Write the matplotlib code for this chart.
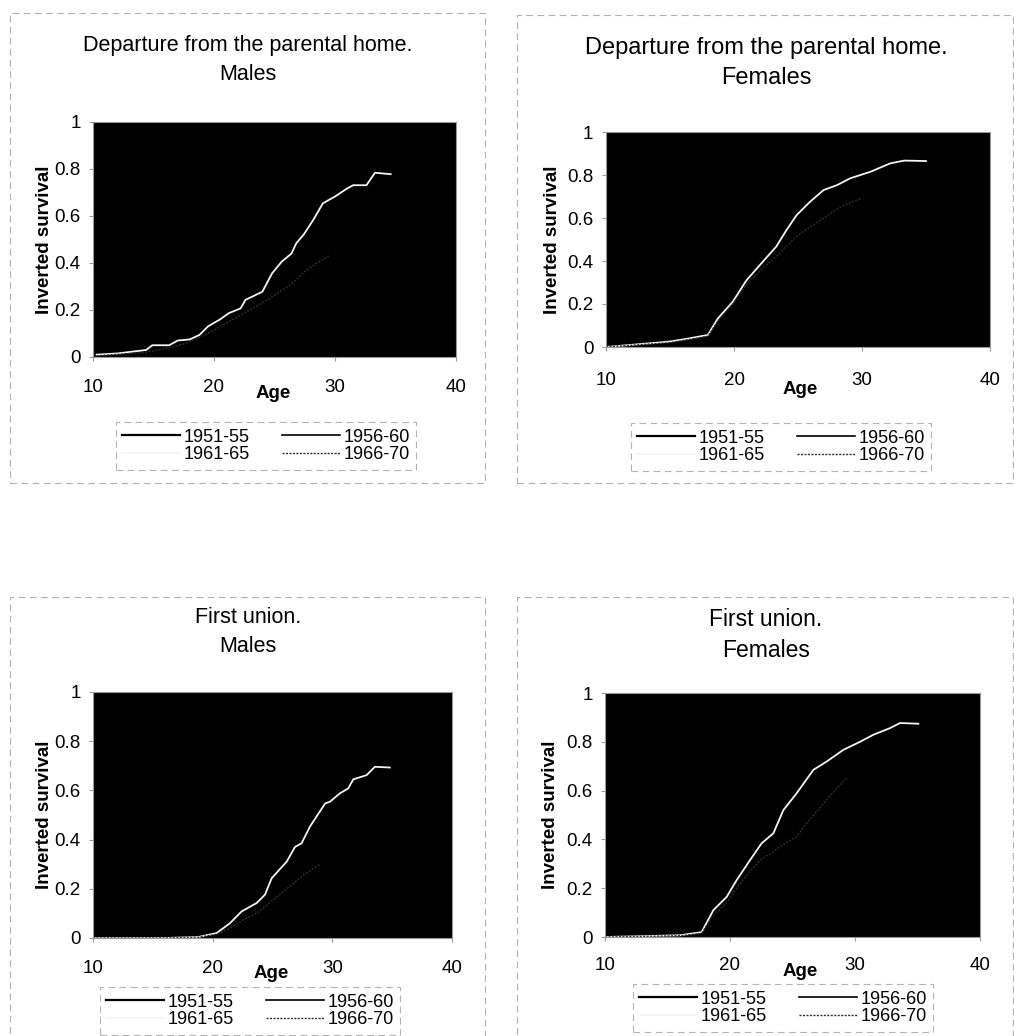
import matplotlib
matplotlib.use("Agg")
import matplotlib.pyplot as plt
from matplotlib.patches import Rectangle

plt.rcParams['font.family'] = ['Liberation Sans', 'DejaVu Sans']

W, H = 1014, 1036

# ---------------- data ----------------
cohorts = ["1951-55", "1956-60", "1961-65", "1966-70"]
x_ticks = [10, 20, 30, 40]
y_ticks = [0, 0.2, 0.4, 0.6, 0.8, 1]
y_tick_labels = ["0", "0.2", "0.4", "0.6", "0.8", "1"]

# Departure from the parental home, males
dm_age_51 = [10, 14, 16, 18, 20, 22, 24, 26, 28, 30, 32, 34, 36, 38, 40]
dm_val_51 = [0.01, 0.04, 0.07, 0.11, 0.18, 0.26, 0.36, 0.48, 0.60, 0.69, 0.75, 0.79, 0.82, 0.84, 0.85]
dm_age_56 = [10, 14, 16, 18, 20, 22, 24, 26, 28, 30, 32, 34, 36, 38, 40]
dm_val_56 = [0.01, 0.035, 0.06, 0.09, 0.16, 0.23, 0.32, 0.45, 0.58, 0.68, 0.74, 0.78, 0.81, 0.83, 0.84]
dm_age_61 = [10.3, 12, 14.4, 14.9, 16.3, 17.0, 18.0, 18.8, 19.5, 20.5, 21.2, 22.2, 22.6, 24.0,
             24.8, 25.6, 26.4, 26.8, 27.4, 28.2, 29.0, 30.0, 31.0, 31.5, 32.6, 33.3, 34.6]
dm_val_61 = [0.01, 0.015, 0.03, 0.05, 0.05, 0.07, 0.075, 0.094, 0.13, 0.16, 0.186, 0.207, 0.243, 0.278,
             0.356, 0.406, 0.44, 0.484, 0.52, 0.583, 0.654, 0.683, 0.717, 0.731, 0.731, 0.784, 0.778]
dm_age_66 = [10.3, 14.4, 16.3, 17.7, 19.5, 21.2, 22.6, 24.0, 25.2, 26.4, 27.4, 28.5, 29.5]
dm_val_66 = [0.005, 0.02, 0.04, 0.058, 0.10, 0.15, 0.19, 0.23, 0.27, 0.31, 0.36, 0.40, 0.43]

# Departure from the parental home, females
df_age_51 = [10, 14, 16, 18, 20, 22, 24, 26, 28, 30, 32, 34, 36, 38, 40]
df_val_51 = [0.0, 0.02, 0.05, 0.10, 0.25, 0.42, 0.58, 0.70, 0.78, 0.83, 0.86, 0.88, 0.89, 0.90, 0.90]
df_age_56 = [10, 14, 16, 18, 20, 22, 24, 26, 28, 30, 32, 34, 36, 38, 40]
df_val_56 = [0.0, 0.02, 0.04, 0.08, 0.22, 0.39, 0.55, 0.68, 0.76, 0.81, 0.85, 0.87, 0.88, 0.89, 0.89]
df_age_61 = [10, 14.95, 16.5, 17.96, 18.74, 19.9, 20.97, 22.3, 23.3, 24.1, 24.9, 25.95, 27.0,
             28.05, 29.1, 30.66, 32.2, 33.3, 35.0]
df_val_61 = [0.0, 0.025, 0.04, 0.056, 0.133, 0.21, 0.31, 0.40, 0.467, 0.544, 0.614, 0.676, 0.73,
             0.753, 0.785, 0.815, 0.854, 0.867, 0.865]
df_age_66 = [10, 14.95, 16.5, 17.96, 18.74, 19.9, 20.97, 22.3, 23.3, 24.1, 25.0, 26.0, 27.0, 28.0, 29.0, 29.9]
df_val_66 = [0.0, 0.02, 0.035, 0.05, 0.12, 0.20, 0.29, 0.37, 0.42, 0.47, 0.52, 0.56, 0.60, 0.64, 0.67, 0.69]

# First union, males
um_age_51 = [10, 16, 18, 20, 22, 24, 26, 28, 30, 32, 34, 36, 38, 40]
um_val_51 = [0.0, 0.005, 0.02, 0.06, 0.14, 0.25, 0.38, 0.52, 0.63, 0.71, 0.76, 0.79, 0.81, 0.82]
um_age_56 = [10, 16, 18, 20, 22, 24, 26, 28, 30, 32, 34, 36, 38, 40]
um_val_56 = [0.0, 0.004, 0.015, 0.04, 0.11, 0.21, 0.33, 0.47, 0.59, 0.68, 0.73, 0.77, 0.79, 0.80]
um_age_61 = [10, 16, 18.8, 20.33, 21.44, 22.42, 23.67, 24.37, 24.93, 26.18, 26.88, 27.43, 28.13,
             29.4, 29.8, 30.63, 31.33, 31.75, 32.86, 33.56, 34.8]
um_val_61 = [0.0, 0.0, 0.004, 0.02, 0.06, 0.108, 0.142, 0.176, 0.243, 0.31, 0.37, 0.385, 0.453,
             0.547, 0.554, 0.588, 0.608, 0.645, 0.662, 0.696, 0.693]
um_age_66 = [10, 16, 18.8, 20.33, 21.44, 22.42, 23.67, 24.93, 26.18, 27.7, 29.0]
um_val_66 = [0.0, 0.0, 0.003, 0.015, 0.04, 0.07, 0.10, 0.15, 0.20, 0.26, 0.30]

# First union, females
uf_age_51 = [10, 16, 18, 20, 22, 24, 26, 28, 30, 32, 34, 36, 38, 40]
uf_val_51 = [0.0, 0.01, 0.06, 0.20, 0.38, 0.56, 0.70, 0.78, 0.83, 0.86, 0.88, 0.89, 0.90, 0.90]
uf_age_56 = [10, 16, 18, 20, 22, 24, 26, 28, 30, 32, 34, 36, 38, 40]
uf_val_56 = [0.0, 0.01, 0.05, 0.18, 0.35, 0.53, 0.67, 0.76, 0.81, 0.85, 0.87, 0.88, 0.89, 0.89]
uf_age_61 = [10, 16.0, 17.73, 18.67, 19.73, 20.53, 21.6, 22.53, 23.47, 24.27, 25.33, 26.67, 27.73,
             29.07, 30.4, 31.47, 32.8, 33.6, 35.07]
uf_val_61 = [0.0, 0.007, 0.02, 0.11, 0.164, 0.233, 0.315, 0.384, 0.425, 0.52, 0.589, 0.685, 0.719,
             0.767, 0.80, 0.829, 0.856, 0.877, 0.874]
uf_age_66 = [10, 16.0, 17.73, 18.67, 19.73, 20.53, 21.6, 22.53, 23.47, 24.27, 25.3, 26.2, 27.2, 28.2, 29.3]
uf_val_66 = [0.0, 0.005, 0.015, 0.09, 0.14, 0.20, 0.27, 0.32, 0.35, 0.38, 0.41, 0.47, 0.53, 0.59, 0.65]

panels = [
    dict(title="Departure from the parental home.\nMales",
         ages=[dm_age_51, dm_age_56, dm_age_61, dm_age_66],
         vals=[dm_val_51, dm_val_56, dm_val_61, dm_val_66],
         box=(93, 122, 456, 357), title_xy=(248, 60), tsize=15.5, tpad=31,
         ylab_x=53, age_xy=(273, 394), leg_xy=(266, 446), frame=(10, 13, 485, 483)),
    dict(title="Departure from the parental home.\nFemales",
         ages=[df_age_51, df_age_56, df_age_61, df_age_66],
         vals=[df_val_51, df_val_56, df_val_61, df_val_66],
         box=(606, 132, 990, 347), title_xy=(766, 63), tsize=17, tpad=34,
         ylab_x=561, age_xy=(800, 390), leg_xy=(781, 447), frame=(517, 15, 1013, 483)),
    dict(title="First union.\nMales",
         ages=[um_age_51, um_age_56, um_age_61, um_age_66],
         vals=[um_val_51, um_val_56, um_val_61, um_val_66],
         box=(93, 692, 452, 938), title_xy=(248, 632), tsize=15.5, tpad=31,
         ylab_x=53, age_xy=(271, 974), leg_xy=(250, 1011), frame=(10, 597, 485, 1040)),
    dict(title="First union.\nFemales",
         ages=[uf_age_51, uf_age_56, uf_age_61, uf_age_66],
         vals=[uf_val_51, uf_val_56, uf_val_61, uf_val_66],
         box=(605, 693, 980, 937), title_xy=(766, 635), tsize=16.5, tpad=29,
         ylab_x=559, age_xy=(800, 972), leg_xy=(783, 1008), frame=(517, 597, 1013, 1040)),
]

styles = [
    dict(color="#000000", lw=1.6, ls="-"),
    dict(color="#000000", lw=1.2, ls="-"),
    dict(color="#f4f4f4", lw=1.3, ls="-"),
    dict(color="#2e2e2e", lw=1.0, ls=(0, (1.5, 1))),
]

fig = plt.figure(figsize=(W / 100, H / 100), dpi=100)
fig.patch.set_facecolor("white")

for p in panels:
    x0, y0, x1, y1 = p["frame"]
    fig.patches.append(Rectangle((x0 / W, 1 - y1 / H), (x1 - x0) / W, (y1 - y0) / H,
                                 transform=fig.transFigure, fill=False,
                                 edgecolor="#b0b0b0", lw=0.8, ls=(0, (6, 4))))
    l, t, r, b = p["box"]
    ax = fig.add_axes([l / W, 1 - b / H, (r - l) / W, (b - t) / H])
    ax.set_facecolor("black")
    handles = []
    for age, val, name, st in zip(p["ages"], p["vals"], cohorts, styles):
        h, = ax.plot(age, val, color=st["color"], lw=st["lw"], ls=st["ls"], label=name)
        handles.append(h)
    ax.set_xlim(10, 40)
    ax.set_ylim(0, 1)
    ax.set_xticks(x_ticks)
    ax.set_yticks(y_ticks)
    ax.set_yticklabels(y_tick_labels)
    ax.tick_params(axis="both", labelsize=13.5, length=3, color="#999999", pad=6)
    # x tick label centre should sit tpad px below the axis
    ax.tick_params(axis="x", pad=(p["tpad"] - 4 - 9) * 0.72)
    for s in ax.spines.values():
        s.set_color("#9a9a9a")
        s.set_linewidth(0.8)
    ax.set_ylabel("Inverted survival", fontsize=13.5, fontweight="bold")
    ax.yaxis.set_label_coords((p["ylab_x"] - l) / (r - l), 0.5)
    ax.set_xlabel("Age", fontsize=13.5, fontweight="bold")
    ax.xaxis.set_label_coords((p["age_xy"][0] - l) / (r - l), (b - p["age_xy"][1]) / (b - t))
    ax.xaxis.label.set_va("center")
    tx, ty = p["title_xy"]
    fig.text(tx / W, 1 - ty / H, p["title"], ha="center", va="center",
             fontsize=p["tsize"], linespacing=1.45)
    order = [handles[0], handles[2], handles[1], handles[3]]
    lx, ly = p["leg_xy"]
    leg = fig.legend(order, [h.get_label() for h in order], loc="center",
                     bbox_to_anchor=(lx / W, 1 - ly / H), bbox_transform=fig.transFigure,
                     ncol=2, fontsize=13, frameon=True, fancybox=False,
                     handlelength=3.2, handletextpad=0.2, columnspacing=1.8,
                     labelspacing=0.05, borderpad=0.35)
    fr = leg.get_frame()
    fr.set_edgecolor("#a0a0a0")
    fr.set_linestyle((0, (6, 4)))
    fr.set_linewidth(0.8)

fig.savefig("out.png", dpi=100, facecolor="white")
